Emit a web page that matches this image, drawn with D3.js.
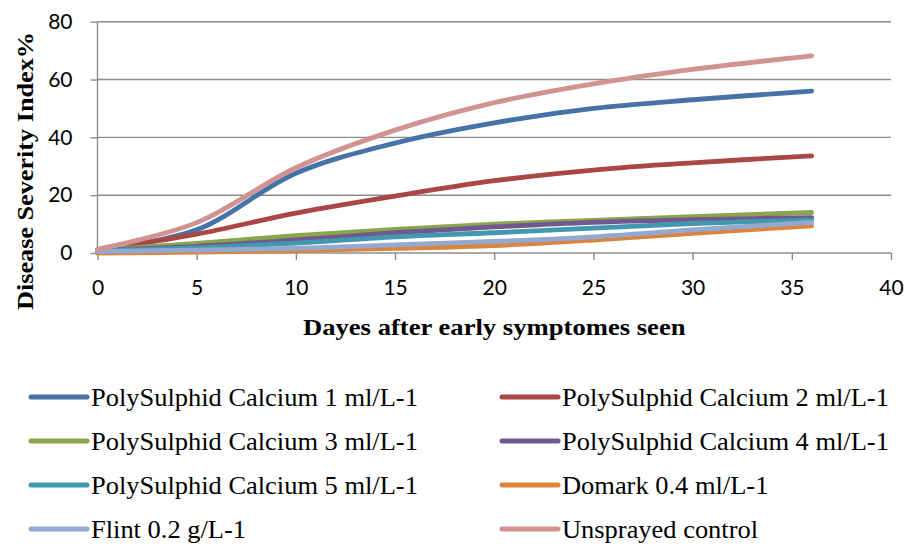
<!DOCTYPE html>
<html>
<head>
<meta charset="utf-8">
<script src="https://cdn.jsdelivr.net/npm/d3@7/dist/d3.min.js"></script>
<style>
  html, body { margin: 0; padding: 0; background: #fff; }
  svg { display: block; }
</style>
</head>
<body>
<svg id="chart" width="908" height="547"></svg>
<script>
// ---- Data ----
const days = [0, 5, 10, 15, 20, 25, 30, 36];
const seriesNames = [
  "PolySulphid Calcium 1 ml/L-1",
  "PolySulphid Calcium 2 ml/L-1",
  "PolySulphid Calcium 3 ml/L-1",
  "PolySulphid Calcium 4 ml/L-1",
  "PolySulphid Calcium 5 ml/L-1",
  "Domark 0.4 ml/L-1",
  "Flint 0.2 g/L-1",
  "Unsprayed control"
];
const ps1 = [1.0, 8.0, 27.6, 38.0, 45.0, 50.0, 53.0, 56.0];
const ps2 = [1.0, 6.5, 13.8, 19.7, 25.0, 28.7, 31.2, 33.6];
const ps3 = [1.0, 3.3, 6.0, 8.2, 10.0, 11.3, 12.6, 14.0];
const ps4 = [1.0, 2.3, 4.5, 7.0, 9.0, 10.6, 11.5, 12.2];
const ps5 = [0.8, 1.8, 3.4, 5.6, 7.0, 8.6, 10.2, 11.4];
const domark = [0.0, 0.3, 0.8, 1.6, 2.6, 4.5, 6.8, 9.4];
const flint = [0.5, 1.0, 1.6, 2.8, 4.0, 5.6, 8.0, 10.6];
const control = [1.3, 10.5, 29.5, 42.5, 52.0, 58.5, 63.5, 68.2];
const seriesValues = [ps1, ps2, ps3, ps4, ps5, domark, flint, control];
const colors = ["#4572A7", "#AA4643", "#89A54E", "#71588F", "#4198AF", "#DB843D", "#93A9CF", "#D19392"];
const xTicks = [0, 5, 10, 15, 20, 25, 30, 35, 40];
const yTicks = [0, 20, 40, 60, 80];
const xTitle = "Dayes after early symptomes seen";
const yTitle = "Disease Severity Index%";

// ---- Layout ----
const svg = d3.select("#chart");
const pLeft = 97.5, pRight = 891, pTop = 21.7, pBottom = 253;
const x = d3.scaleLinear().domain([0, 40]).range([pLeft, pRight]);
const y = d3.scaleLinear().domain([0, 80]).range([pBottom, pTop]);
const gridColor = "#8c8c8c";
const tickFont = "Lato, 'Open Sans', sans-serif";
const serif = "'Liberation Serif', 'Times New Roman', serif";

// gridlines
svg.append("g").selectAll("line").data(yTicks.filter(d => d > 0)).join("line")
  .attr("x1", pLeft).attr("x2", pRight)
  .attr("y1", d => y(d)).attr("y2", d => y(d))
  .attr("stroke", gridColor).attr("stroke-width", 1.4);

// y axis
const yAxis = svg.append("g").attr("transform", `translate(${pLeft},0)`)
  .call(d3.axisLeft(y).tickValues(yTicks).tickSize(7).tickPadding(18).tickFormat(d3.format("d")));
yAxis.select(".domain").attr("stroke", gridColor).attr("stroke-width", 1.4)
  .attr("d", `M0,${pTop}V${pBottom}`);
yAxis.selectAll(".tick line").attr("stroke", gridColor).attr("stroke-width", 1.4);
yAxis.selectAll(".tick text").attr("font-family", tickFont).attr("font-size", 21).attr("fill", "#000");

// x axis
const xAxis = svg.append("g").attr("transform", `translate(0,${pBottom})`)
  .call(d3.axisBottom(x).tickValues(xTicks).tickSize(7).tickPadding(20).tickFormat(d3.format("d")));
xAxis.select(".domain").attr("stroke", gridColor).attr("stroke-width", 1.4)
  .attr("d", `M${pLeft},0H${pRight}`);
xAxis.selectAll(".tick line").attr("stroke", gridColor).attr("stroke-width", 1.4);
xAxis.selectAll(".tick text").attr("font-family", tickFont).attr("font-size", 21).attr("fill", "#000");

// lines
const line = d3.line().x((d, i) => x(days[i])).y(d => y(d)).curve(d3.curveCatmullRom.alpha(0.5));
svg.append("g").selectAll("path").data(seriesValues).join("path")
  .attr("d", d => line(d))
  .attr("fill", "none")
  .attr("stroke", (d, i) => colors[i])
  .attr("stroke-width", 4.8)
  .attr("stroke-linecap", "round")
  .attr("stroke-linejoin", "round");

// axis titles (font size chosen by cap height, width fitted by horizontal scale)
function placeScaled(sel, tx, ty, rot, target) {
  const w = sel.node().getComputedTextLength();
  const sx = target / w;
  sel.attr("transform", `translate(${tx},${ty}) rotate(${rot}) scale(${sx.toFixed(4)},1)`);
  return sx;
}

const xt = svg.append("text").text(xTitle)
  .attr("text-anchor", "middle").attr("font-family", serif)
  .attr("font-weight", "bold").attr("font-size", 23).attr("fill", "#000");
placeScaled(xt, (pLeft + pRight) / 2, 335, 0, 383);

const yt = svg.append("text").text(yTitle)
  .attr("text-anchor", "middle").attr("font-family", serif)
  .attr("font-weight", "bold").attr("font-size", 24).attr("fill", "#000");
placeScaled(yt, 33, 171, -90, 278);

// legend
const legend = svg.append("g");
const colX = [31, 502];
const rowY = [397, 441, 485, 529];
let legendScale = null;
seriesNames.forEach((name, i) => {
  const cx = colX[i % 2], cy = rowY[Math.floor(i / 2)];
  legend.append("line")
    .attr("x1", cx).attr("x2", cx + 56).attr("y1", cy).attr("y2", cy)
    .attr("stroke", colors[i]).attr("stroke-width", 5).attr("stroke-linecap", "round");
  const t = legend.append("text").text(name)
    .attr("font-family", serif).attr("font-size", 25.5).attr("fill", "#000");
  if (legendScale === null) legendScale = 327 / t.node().getComputedTextLength();
  t.attr("transform", `translate(${cx + 60},${cy + 8.5}) scale(${legendScale.toFixed(4)},1)`);
});
</script>
</body>
</html>
